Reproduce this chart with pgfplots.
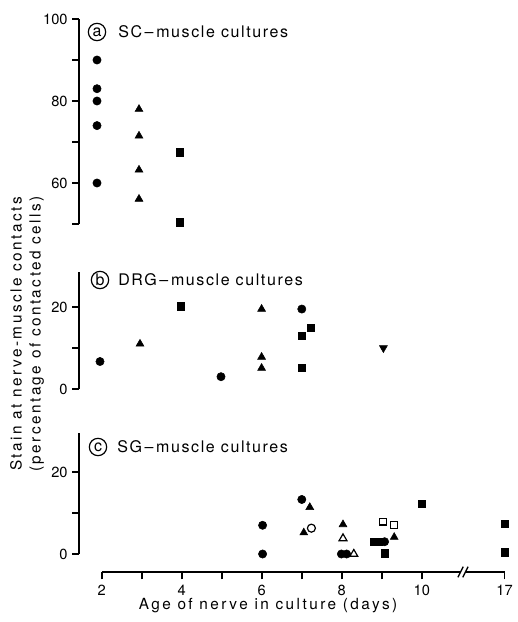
\documentclass[border=0pt]{standalone}
\usepackage{fontspec}
\setmainfont{TeX Gyre Heros}
\newfontfamily\spaced[LetterSpace=10]{TeX Gyre Heros}
\newfontfamily\wide[LetterSpace=16]{TeX Gyre Heros}
\usepackage{pgfplots}
\pgfplotsset{compat=1.18}
\pgfplotsset{
  panel/.style={
    x=30pt, y=3.075pt, xmin=1.43, xmax=12.3,
    axis y line=left, axis x line=none,
    y axis line style={-, line width=1.7pt},
    tick align=outside,
    major tick length=5pt, minor tick length=5pt,
    every tick/.style={black, line width=1.1pt},
    yticklabel style={font=\fontsize{11}{13}\selectfont},
    /pgf/number format/assume math mode=true,
    clip=false, anchor=south west,
  },
  fc/.style={only marks, mark=*, mark size=3.1pt, black},
  ft/.style={only marks, mark=triangle*, mark size=3.4pt, black},
  fs/.style={only marks, mark=square*, mark size=2.7pt, black},
  oc/.style={only marks, mark=*, mark size=3pt, mark options={draw=black, fill=white, line width=0.9pt}},
  ot/.style={only marks, mark=triangle*, mark size=3.4pt, mark options={draw=black, fill=white, line width=0.9pt}},
  os/.style={only marks, mark=square*, mark size=2.6pt, mark options={draw=black, fill=white, line width=0.9pt}},
  it/.style={only marks, mark=triangle*, mark size=3.4pt, black, mark options={rotate=180}},
}
\tikzset{
  lbl/.style={circle, draw, line width=0.9pt, minimum size=13pt, inner sep=0pt, anchor=center, font=\fontsize{12}{14}\selectfont},
  ttl/.style={anchor=west, inner sep=0pt, font=\spaced\fontsize{12}{14}\selectfont},
}
\begin{document}
\begin{tikzpicture}
\path (0,0) rectangle (386.25pt,466.5pt);

% Panel a
\begin{axis}[panel, at={(59.25pt,298.5pt)}, ymin=50, ymax=100,
  ytick={60,80,100}, minor ytick={50,70,90}]
\addplot[fc] coordinates {(1.88,90) (1.88,83) (1.88,80) (1.88,74) (1.88,60)};
\addplot[ft] coordinates {(2.93,78) (2.93,71.5) (2.93,63.2) (2.93,56.1)};
\addplot[fs] coordinates {(3.955,67.5) (3.955,50.4)};
\end{axis}

% Panel b
\begin{axis}[panel, at={(59.25pt,174.75pt)}, ymin=0, ymax=28.5,
  ytick={0,20}, minor ytick={10}]
\addplot[fc] coordinates {(1.955,6.7) (4.98,3.0) (7.0,19.5)};
\addplot[ft] coordinates {(2.955,11.0) (5.995,19.5) (5.995,7.8) (5.995,5.1)};
\addplot[fs] coordinates {(3.98,20.2) (7.0,12.9) (7.0,5.1) (7.22,15.0)};
\addplot[it] coordinates {(9.04,10.0)};
\end{axis}

% Panel c
\begin{axis}[panel, at={(59.25pt,51pt)}, ymin=0, ymax=29.5,
  ytick={0,20}, minor ytick={10}]
\addplot[fc] coordinates {(6.02,7.0) (6.02,0) (7.0,13.3) (7.99,0) (8.12,0) (9.07,3.0)};
\addplot[ft] coordinates {(7.2,11.4) (7.05,5.2) (8.03,7.2) (9.31,4.1)};
\addplot[fs] coordinates {(8.8,3.0) (8.93,3.0) (9.07,0.2) (10.0,12.2) (12.07,7.3) (12.07,0.4)};
\addplot[oc] coordinates {(7.24,6.3)};
\addplot[ot] coordinates {(8.03,3.8) (8.3,0)};
\addplot[os] coordinates {(9.03,7.9) (9.31,7.1)};
\end{axis}

% x axis
\begin{axis}[x=30pt, y=1pt, xmin=1.43, xmax=12.3, ymin=0, ymax=1,
  at={(59.25pt,37.5pt)}, anchor=south west,
  axis x line=bottom, axis y line=none,
  x axis line style={draw=none},
  tick align=outside, major tick length=5.5pt,
  every tick/.style={black, line width=1.1pt},
  xtick={2,3,4,5,6,7,8,9,10,12.07},
  xticklabels={2,,4,,6,,8,,10,17},
  xticklabel style={font=\fontsize{11}{13}\selectfont, yshift=-1pt},
  /pgf/number format/assume math mode=true,
  clip=false]
\draw[line width=1.3pt] (axis cs:2,0) -- (axis cs:10.96,0);
\draw[line width=1.3pt] (axis cs:11.1,0) -- (axis cs:12.07,0);
\draw[line width=1pt] ([xshift=-2pt,yshift=-4pt]axis cs:10.97,0) -- ([xshift=2pt,yshift=4pt]axis cs:10.97,0);
\draw[line width=1pt] ([xshift=-2pt,yshift=-4pt]axis cs:11.09,0) -- ([xshift=2pt,yshift=4pt]axis cs:11.09,0);
\end{axis}

% panel titles
\node[lbl] at (72.75pt,442.5pt) {a};
\node[ttl] at (88.5pt,442.5pt) {SC\,–\,muscle cultures};
\node[lbl] at (75pt,256.5pt) {b};
\node[ttl] at (88.5pt,256.5pt) {DRG\,–\,muscle cultures};
\node[lbl] at (73.5pt,131.25pt) {c};
\node[ttl] at (87.75pt,131.25pt) {SG\,–\,muscle cultures};

% axis titles
\node[font=\wide\fontsize{11.5}{13}\selectfont, inner sep=0pt] at (201pt,12pt) {Age of nerve in culture (days)};
\node[rotate=90, align=center, inner sep=0pt, font=\wide\fontsize{11.5}{14.25}\selectfont]
  at (20.25pt,216pt) {Stain at nerve-muscle contacts\\(percentage of contacted cells)};
\end{tikzpicture}
\end{document}
